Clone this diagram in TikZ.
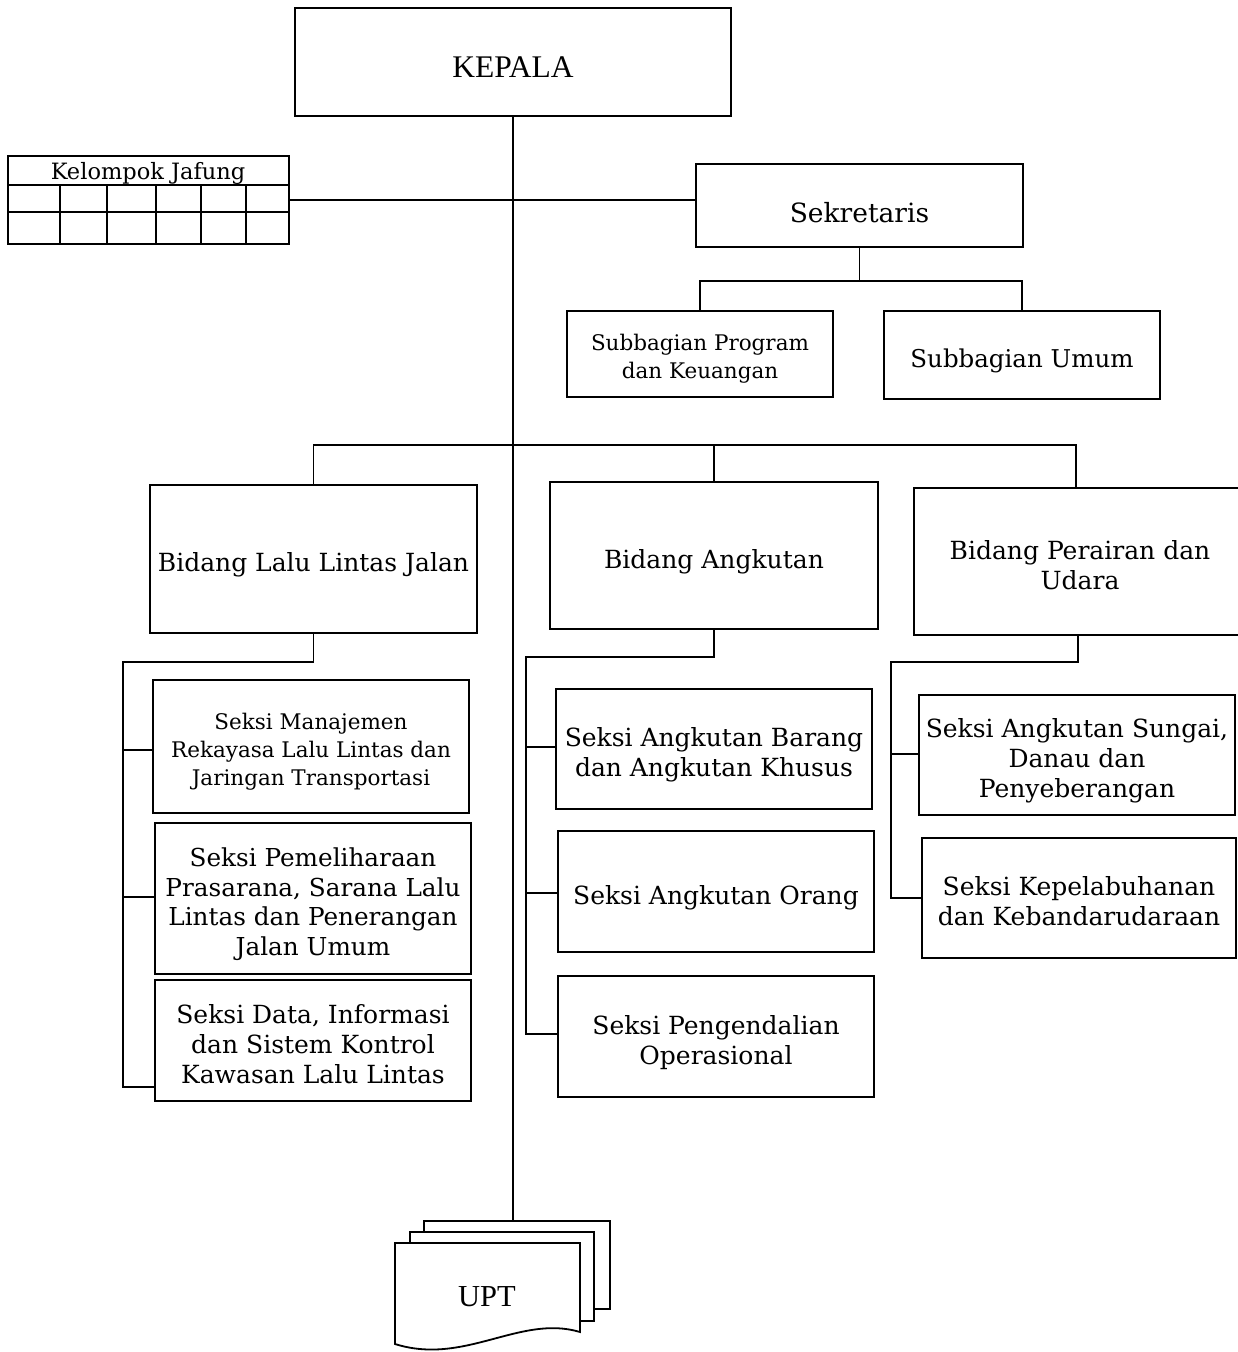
\documentclass[tikz,border=0pt]{standalone}
\usepackage{fontspec}
\setmainfont{DejaVu Serif}
\newfontfamily\timesfont{Liberation Serif}
\usepackage{tikz}
\newcommand{\firstline}{\rule{0pt}{1.24em}}

\begin{document}
\begin{tikzpicture}[x=1pt,y=-1pt,line width=1.8pt,
  box/.style={draw,align=center,inner sep=2pt,font=\fontsize{25}{30}\selectfont,
    execute at begin node={\rule{0pt}{1.24em}},
    execute at end node={\rule[-0.24em]{0pt}{0.24em}}},
  small/.style={font=\fontsize{21.5}{28}\selectfont}]
  \useasboundingbox (0,0) rectangle (1237,1352);
  % pimpinan
  \node[box,minimum width=436pt,minimum height=108pt,font=\timesfont\fontsize{31.5}{36}\selectfont] (kepala) at (513,62) {KEPALA};
  \coordinate (upttop) at (513,1221);
  \draw (kepala.south) -- (upttop);
  % kelompok jabatan fungsional
  \node[draw,minimum width=281pt,minimum height=88pt] (jafung) at (148.5,200) {};
  \node[font=\fontsize{22.5}{26}\selectfont,inner sep=0pt] (jafungtitle) at (148,173.5) {Kelompok Jafung};
  \draw (8,185) -- (289,185);
  \draw (8,212) -- (289,212);
  \foreach \x in {60,107,156,201,246} \draw (\x,185) -- (\x,244);
  % sekretariat
  \node[box,minimum width=327pt,minimum height=83pt,font=\fontsize{26.5}{30}\selectfont] (sek) at (859.5,205.5) {\rule{0pt}{1.55em}Sekretaris};
  \draw (jafung.east) -- (jafung.east -| sek.west);
  \node[box,small,minimum width=266pt,minimum height=86pt] (subprog) at (700,354) {\firstline Subbagian Program\\dan Keuangan};
  \node[box,font=\fontsize{24.5}{30}\selectfont,minimum width=276pt,minimum height=88pt] (subumum) at (1022,355) {Subbagian Umum};
  \draw (sek.south) -- ++(0,33) coordinate (sekbar) -| (subprog.north);
  \draw (sekbar) -| (subumum.north);
  % bidang
  \node[box,minimum width=327pt,minimum height=148pt] (llj) at (313.5,559) {Bidang Lalu Lintas Jalan};
  \node[box,minimum width=328pt,minimum height=147pt] (angkutan) at (714,555.5) {Bidang Angkutan};
  \node[box,minimum width=332pt,minimum height=147pt] (perairan) at (1080,561.5) {\firstline Bidang Perairan dan\\Udara};
  \coordinate (bar) at (514,445);
  \draw (llj.north) -- (llj.north |- bar) -- (1076,445) -- (1076,488);
  \draw (angkutan.north) -- (angkutan.north |- bar);
  % seksi bidang lalu lintas jalan
  \node[box,small,minimum width=316pt,minimum height=133pt] (manajemen) at (311,746.5) {\firstline Seksi Manajemen\\Rekayasa Lalu Lintas dan\\Jaringan Transportasi};
  \node[box,font=\fontsize{24.7}{29.7}\selectfont,minimum width=316pt,minimum height=151pt] (pemeliharaan) at (313,898.5) {\firstline Seksi Pemeliharaan\\Prasarana, Sarana Lalu\\Lintas dan Penerangan\\Jalan Umum};
  \node[box,minimum width=316pt,minimum height=121pt] (data) at (313,1040.5) {\firstline Seksi Data, Informasi\\dan Sistem Kontrol\\Kawasan Lalu Lintas};
  \coordinate (lspine) at (123,662);
  \draw (llj.south) |- (lspine) -- (123,1087) -- (data.west |- 0,1087);
  \draw (lspine |- 0,750) -- (manajemen.west |- 0,750);
  \draw (lspine |- 0,897) -- (pemeliharaan.west |- 0,897);
  % seksi bidang angkutan
  \node[box,minimum width=316pt,minimum height=120pt] (barang) at (714,749) {\firstline Seksi Angkutan Barang\\dan Angkutan Khusus};
  \node[box,minimum width=316pt,minimum height=121pt] (orang) at (716,891.5) {Seksi Angkutan Orang};
  \node[box,minimum width=316pt,minimum height=121pt] (pengendalian) at (716,1036.5) {\firstline Seksi Pengendalian\\Operasional};
  \coordinate (mspine) at (526,657);
  \draw (angkutan.south) |- (mspine) -- (526,1034) -- (pengendalian.west |- 0,1034);
  \draw (mspine |- 0,747) -- (barang.west |- 0,747);
  \draw (mspine |- 0,893) -- (orang.west |- 0,893);
  % seksi bidang perairan dan udara
  \node[box,minimum width=316pt,minimum height=120pt] (sungai) at (1077,755) {\firstline Seksi Angkutan Sungai,\\Danau dan\\Penyeberangan};
  \node[box,minimum width=314pt,minimum height=120pt] (pelabuhan) at (1079,898) {\firstline Seksi Kepelabuhanan\\dan Kebandarudaraan};
  \coordinate (rspine) at (891,662);
  \draw (1078,635) |- (rspine) -- (891,898) -- (pelabuhan.west |- 0,898);
  \draw (rspine |- 0,754) -- (sungai.west |- 0,754);
  % unit pelaksana teknis
  \draw (594,1309) -- (610,1309) -- (610,1221) -- (424,1221) -- (424,1232);
  \draw (580,1321) -- (594,1321) -- (594,1232) -- (410,1232) -- (410,1243);
  \draw[fill=white] (395,1243) -- (580,1243) -- (580,1332)
        .. controls (520,1314) and (465,1366) .. (395,1344) -- cycle;
  \node[font=\timesfont\fontsize{30.5}{34}\selectfont] (upt) at (487,1297) {UPT};
\end{tikzpicture}
\end{document}
